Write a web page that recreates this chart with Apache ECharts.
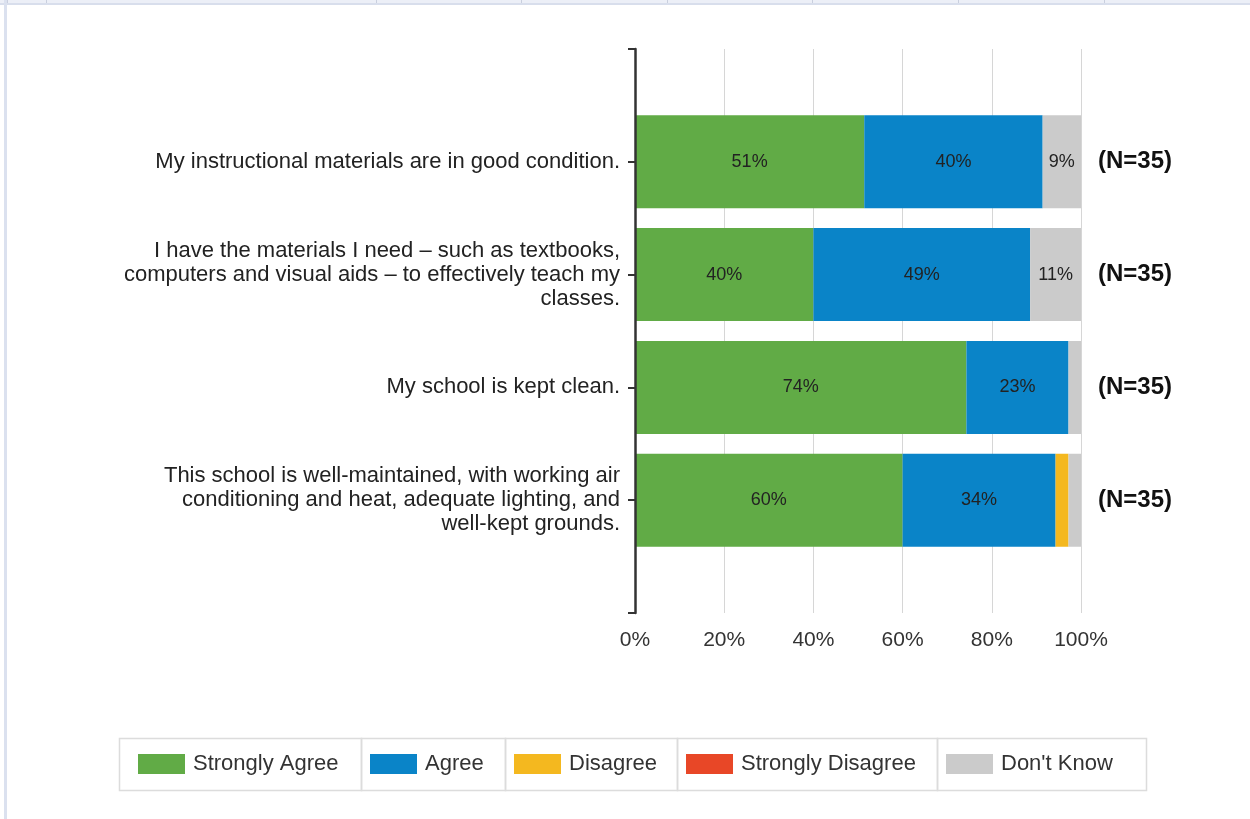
<!DOCTYPE html>
<html>
<head>
<meta charset="utf-8">
<script src="https://cdn.jsdelivr.net/npm/echarts@6/dist/echarts.min.js"></script>
<style>
html,body{margin:0;padding:0;background:#fff;}
#chart{width:1250px;height:819px;}
</style>
</head>
<body>
<div id="chart"></div>
<script>
// ---- data ----
const categories = [
  '',
  'My instructional materials are in good condition.',
  'I have the materials I need – such as textbooks,\ncomputers and visual aids – to effectively teach my\nclasses.',
  'My school is kept clean.',
  'This school is well-maintained, with working air\nconditioning and heat, adequate lighting, and\nwell-kept grounds.',
  ''
];
const nLabels = ['', '(N=35)', '(N=35)', '(N=35)', '(N=35)', ''];
const seriesNames = ['Strongly Agree', 'Agree', 'Disagree', 'Strongly Disagree', "Don't Know"];
const stronglyAgree    = ['-', 51.4, 40.0, 74.3, 60.0, '-'];
const agree            = ['-', 40.0, 48.6, 22.9, 34.3, '-'];
const disagree         = ['-', 0,    0,    0,    2.9,  '-'];
const stronglyDisagree = ['-', 0,    0,    0,    0,    '-'];
const dontKnow         = ['-', 8.6,  11.4, 2.9,  2.9,  '-'];
const xTicks = [0, 20, 40, 60, 80, 100];

const colors = ['#61ab46', '#0a84c8', '#f4b81f', '#e84727', '#cbcbcb'];
const seriesData = [stronglyAgree, agree, disagree, stronglyDisagree, dontKnow];
const FONT = '"Liberation Sans", Arial, sans-serif';

const chart = echarts.init(document.getElementById('chart'));

const series = seriesNames.map((name, i) => ({
  name: name,
  type: 'bar',
  stack: 'total',
  data: seriesData[i],
  barWidth: 93,
  itemStyle: { color: colors[i] },
  label: {
    show: true,
    position: 'inside',
    color: '#222',
    fontSize: 18,
    fontFamily: FONT,
    formatter: p => (typeof p.value === 'number' && p.value >= 5) ? Math.round(p.value) + '%' : ''
  },
  emphasis: { disabled: true }
}));

// legend cells (decorative frames) and item positions
const cellEdges = [119, 361, 505, 677, 937, 1146];
const swatchX = [138, 370, 514, 686, 946];
const legends = seriesNames.map((name, i) => ({
  data: [name],
  left: swatchX[i],
  top: 753,
  padding: 0,
  itemWidth: 47,
  itemHeight: 20,
  icon: 'rect',
  textStyle: { fontSize: 22, color: '#333', fontFamily: FONT, padding: [0, 0, 0, 3] },
  selectedMode: false
}));

const graphics = [
  { type: 'rect', shape: { x: 0, y: 0, width: 1250, height: 5 }, style: { fill: '#eceff7' }, silent: true },
  { type: 'rect', shape: { x: 0, y: 3, width: 1250, height: 2 }, style: { fill: '#d8deec' }, silent: true },
  { type: 'rect', shape: { x: 4, y: 0, width: 3, height: 819 }, style: { fill: '#dbe1ef' }, silent: true }
];
[7, 46, 376, 521, 667, 812, 958, 1104].forEach(x => {
  graphics.push({ type: 'line', shape: { x1: x + 0.5, y1: 0, x2: x + 0.5, y2: 3 }, style: { stroke: '#c9cfde', lineWidth: 1 }, silent: true });
});
for (let i = 0; i < cellEdges.length - 1; i++) {
  graphics.push({
    type: 'rect',
    shape: { x: cellEdges[i] + 0.5, y: 738.5, width: cellEdges[i + 1] - cellEdges[i], height: 52 },
    style: { fill: 'none', stroke: '#dcdcdc', lineWidth: 1.5 },
    silent: true
  });
}

chart.setOption({
  animation: false,
  backgroundColor: '#fff',
  color: colors,
  textStyle: { fontFamily: FONT },
  grid: { left: 635, right: 169, top: 49, bottom: 206, containLabel: false, outerBoundsMode: 'none' },
  legend: legends,
  graphic: graphics,
  xAxis: {
    type: 'value',
    min: 0, max: 100, interval: 20,
    axisLine: { show: false },
    axisTick: { show: false },
    splitLine: { show: true, lineStyle: { color: '#d6d6d6', width: 1 } },
    axisLabel: {
      formatter: v => xTicks.includes(v) ? v + '%' : '',
      fontSize: 21, color: '#333', fontFamily: FONT, margin: 17
    }
  },
  yAxis: [
    {
      type: 'category',
      data: categories,
      inverse: true,
      boundaryGap: false,
      position: 'left',
      axisLine: { show: true, lineStyle: { color: '#333', width: 2.5 } },
      axisTick: { show: true, length: 7, lineStyle: { color: '#333', width: 2 }, interval: 0 },
      splitLine: { show: false },
      axisLabel: {
        interval: 0, fontSize: 22, lineHeight: 24, color: '#222', fontFamily: FONT,
        margin: 15, align: 'right'
      },
      z: 10
    },
    {
      type: 'category',
      data: nLabels,
      inverse: true,
      boundaryGap: false,
      position: 'right',
      axisLine: { show: false },
      axisTick: { show: false },
      splitLine: { show: false },
      axisLabel: {
        interval: 0, fontSize: 24, fontWeight: 'bold', color: '#111', fontFamily: FONT, margin: 17
      }
    }
  ],
  series: series
});
</script>
</body>
</html>
